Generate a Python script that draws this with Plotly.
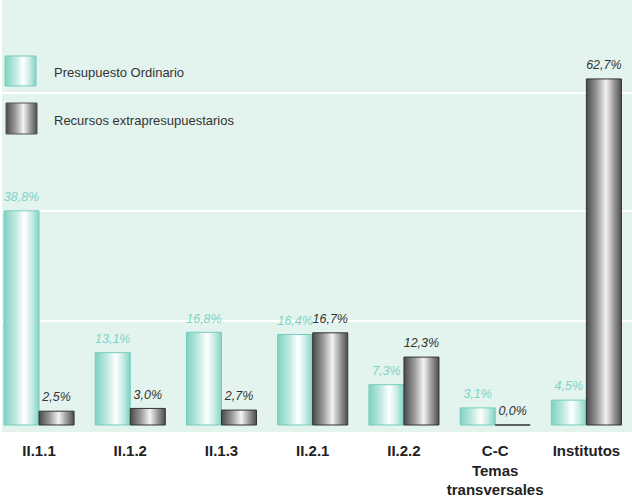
import plotly.graph_objects as go

categorias = ["II.1.1", "II.1.2", "II.1.3", "II.2.1", "II.2.2",
              "C-C<br>Temas<br>transversales", "Institutos"]
ordinario = [38.8, 13.1, 16.8, 16.4, 7.3, 3.1, 4.5]
extra = [2.5, 3.0, 2.7, 16.7, 12.3, 0.0, 62.7]
series = ["Presupuesto Ordinario", "Recursos extrapresupuestarios"]
grid_vals = [18.8, 38.8, 60.1]

# Degradados horizontales (efecto cilindro)
teal_scale = [[0, "#7fd1c1"], [0.35, "#c3ebe3"], [0.58, "#ffffff"],
              [0.78, "#cdeee7"], [1, "#82d3c3"]]
grey_scale = [[0, "#4a4a4a"], [0.3, "#9a9a9a"], [0.56, "#f4f4f4"],
              [0.78, "#9c9c9c"], [1, "#4c4c4c"]]
teal_line = "#74cdbd"
grey_line = "#333333"
teal_text = "#7dd3c3"
grey_text = "#333333"

w = 0.384  # ancho de cada barra en unidades de categoría
font = "Liberation Sans, Arial, sans-serif"


def fmt(v):
    return f"{v:.1f}".replace(".", ",") + "%"


def cilindro(x0, x1, y0, y1, scale, line_color, xaxis="x", yaxis="y"):
    return go.Scatter(x=[x0, x1, x1, x0, x0], y=[y0, y0, y1, y1, y0],
                      mode="lines", fill="toself",
                      fillgradient=dict(type="horizontal", colorscale=scale),
                      line=dict(color=line_color, width=1),
                      xaxis=xaxis, yaxis=yaxis,
                      hoverinfo="skip", showlegend=False)


def etiquetas(xs, vals, color):
    # marcador invisible para separar el texto de la barra
    return go.Scatter(x=xs, y=vals, mode="markers+text",
                      marker=dict(size=9, opacity=0),
                      text=[fmt(v) for v in vals], textposition="top center",
                      textfont=dict(family=font, size=12.5, color=color, style="italic"),
                      hoverinfo="skip", showlegend=False)


fig = go.Figure()

for i, v in enumerate(ordinario):
    fig.add_trace(cilindro(i - w, i, 0, v, teal_scale, teal_line))
for i, v in enumerate(extra):
    fig.add_trace(cilindro(i, i + w, 0, v, grey_scale, grey_line))

# Etiquetas de valor
fig.add_trace(etiquetas([i - w / 2 for i in range(len(ordinario))], ordinario, teal_text))
fig.add_trace(etiquetas([i + w / 2 for i in range(len(extra))], extra, grey_text))

# Leyenda dibujada a mano (ejes en píxeles)
fig.add_trace(cilindro(5, 36, 56, 86, teal_scale, teal_line, "x2", "y2"))
fig.add_trace(cilindro(6, 37, 103, 134, grey_scale, "#555555", "x2", "y2"))
fig.add_annotation(x=52, y=72, xref="x2", yref="y2", text=series[0],
                   showarrow=False, xanchor="left", yanchor="middle",
                   font=dict(family=font, size=13, color="#333333"))
fig.add_annotation(x=52, y=120, xref="x2", yref="y2", text=series[1],
                   showarrow=False, xanchor="left", yanchor="middle",
                   font=dict(family=font, size=13, color="#333333"))

fig.update_layout(
    width=632, height=499,
    margin=dict(l=2, r=0, t=0, b=67),
    paper_bgcolor="white", plot_bgcolor="#e3f3ee",
    showlegend=False,
    xaxis=dict(range=[-0.406, 6.5], tickvals=list(range(len(categorias))),
               ticktext=[f"<b>{c}</b>" for c in categorias],
               tickfont=dict(family=font, size=15, color="#222222"),
               showgrid=False, zeroline=False, ticks="outside", automargin=False,
               ticklen=5, tickcolor="rgba(0,0,0,0)", fixedrange=True),
    yaxis=dict(range=[-1.27, 77.0], tickvals=grid_vals, showticklabels=False,
               showgrid=True, gridcolor="white", gridwidth=2, automargin=False,
               zeroline=False, fixedrange=True),
    xaxis2=dict(overlaying="x", range=[2, 632], visible=False),
    yaxis2=dict(overlaying="y", range=[432, 0], visible=False),
)

fig.write_html("out.html", config=dict(displayModeBar=False),
               post_script="document.body.style.margin='0px';")
